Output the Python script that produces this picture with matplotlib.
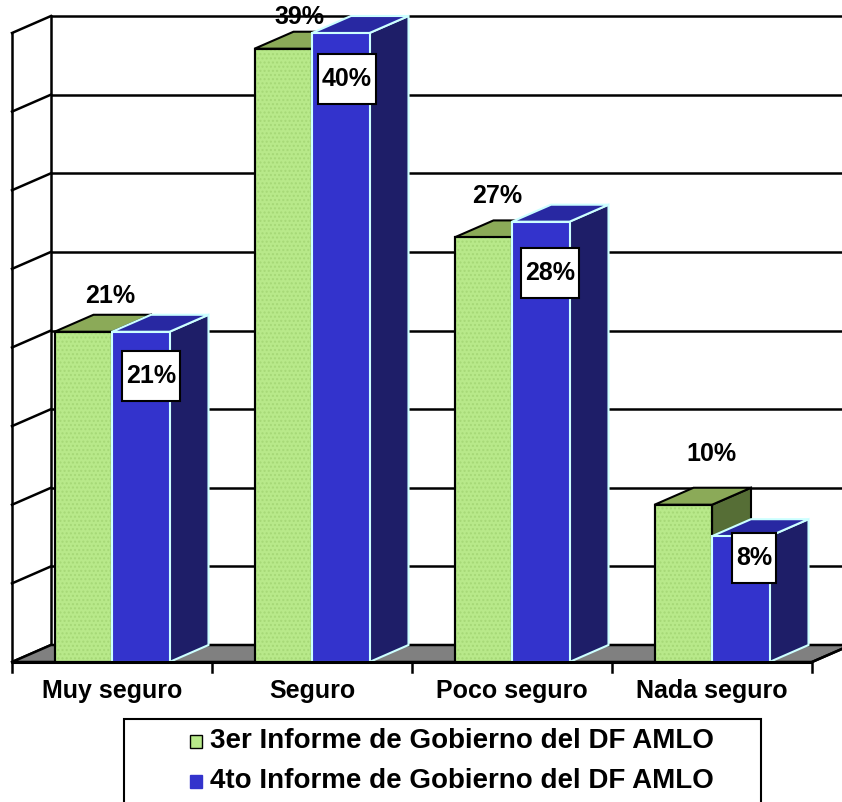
import matplotlib
matplotlib.use("Agg")
import matplotlib.pyplot as plt
from matplotlib.patches import Polygon, Rectangle

plt.rcParams['font.family'] = ['Liberation Sans', 'DejaVu Sans']

# ---------------- data ----------------
categories = ["Muy seguro", "Seguro", "Poco seguro", "Nada seguro"]
series_names = ["3er Informe de Gobierno del DF AMLO",
                "4to Informe de Gobierno del DF AMLO"]
values_3er = [21, 39, 27, 10]
values_4to = [21, 40, 28, 8]
y_max = 40
y_step = 5

# ---------------- layout / style ----------------
W, H = 842, 802
PX_X0, PX_PER_CAT = 112, 200.0       # pixel of category 0 centre, px per category
PX_Y0, PX_PER_PCT = 662, 15.725      # pixel of 0 %, px per percent
DX = 39 / PX_PER_CAT                 # depth offset (data units)
DY = 17 / PX_PER_PCT
BW = 57.5 / PX_PER_CAT               # bar width

def X(px):
    return (px - PX_X0) / PX_PER_CAT

def Y(py):
    return (PX_Y0 - py) / PX_PER_PCT

green = dict(front="#B8E98A", top="#8BAA58", side="#566E36", edge="black")
blue = dict(front="#3333CC", top="#2828A2", side="#1E1E68", edge="#CCFFFF")

# label offsets in px relative to the bar's front top-left corner
green_lab_off = [(56, -36), (45, -32), (43, -41), (57, -51)]
blue_box_off = [(39, 44), (35, 46), (38, 51), (42, 22)]

fig = plt.figure(figsize=(W / 100, H / 100), dpi=100)
ax = fig.add_axes([0, 0, 1, 1])
ax.set_xlim(X(0), X(W))
ax.set_ylim(Y(H), Y(0))
ax.axis("off")

n = len(categories)
xl = -0.5
xr = n - 0.5
LW = 1.8

# ---- walls ----
for v in range(0, y_max + 1, y_step):
    ax.plot([xl + DX, xr + DX + 1], [v + DY, v + DY], color="black", lw=LW, zorder=1,
            solid_capstyle="butt")
    ax.plot([xl, xl + DX], [v, v + DY], color="black", lw=LW, zorder=1)
ax.plot([xl, xl], [0, y_max], color="black", lw=LW, zorder=1)
ax.plot([xl + DX, xl + DX], [DY, y_max + DY], color="black", lw=LW, zorder=1)

# ---- floor ----
floor = Polygon([(xl, 0), (xr, 0), (xr + DX, DY), (xl + DX, DY)], closed=True,
                facecolor="#808080", edgecolor="black", lw=LW, zorder=2)
ax.add_patch(floor)


def bar3d(x0, h, c, z, texture=None):
    x1 = x0 + BW
    front = [(x0, 0), (x1, 0), (x1, h), (x0, h)]
    top = [(x0, h), (x1, h), (x1 + DX, h + DY), (x0 + DX, h + DY)]
    side = [(x1, 0), (x1 + DX, DY), (x1 + DX, h + DY), (x1, h)]
    ax.add_patch(Polygon(side, closed=True, facecolor=c["side"], edgecolor=c["edge"],
                         lw=1.5, zorder=z, joinstyle="miter"))
    ax.add_patch(Polygon(top, closed=True, facecolor=c["top"], edgecolor=c["edge"],
                         lw=1.5, zorder=z, joinstyle="miter"))
    ax.add_patch(Polygon(front, closed=True, facecolor=c["front"], edgecolor=c["edge"],
                         lw=1.5, zorder=z + 0.3, joinstyle="miter"))
    if texture:
        ax.add_patch(Polygon(front, closed=True, fill=False, edgecolor=texture,
                             hatch="....", lw=0, zorder=z + 0.4))
        ax.add_patch(Polygon(front, closed=True, fill=False, edgecolor=c["edge"],
                             lw=1.5, zorder=z + 0.5, joinstyle="miter"))


for i in range(n):
    xg = i - BW
    xb = i
    bar3d(xg, values_3er[i], green, 3 + 2 * i, texture="#A6D877")
    bar3d(xb, values_4to[i], blue, 4 + 2 * i)

    ox, oy = green_lab_off[i]
    ax.text(xg + ox / PX_PER_CAT, values_3er[i] - oy / PX_PER_PCT,
            f"{values_3er[i]}%", ha="center", va="center", fontsize=18,
            fontweight="bold", zorder=20)
    bx, by = blue_box_off[i]
    cx = xb + bx / PX_PER_CAT
    cy = values_4to[i] - by / PX_PER_PCT
    txt = f"{values_4to[i]}%"
    bw_px = 14 * len(txt) + 16
    bh_px = 50
    ax.add_patch(Rectangle((cx - bw_px / 2 / PX_PER_CAT, cy - bh_px / 2 / PX_PER_PCT),
                           bw_px / PX_PER_CAT, bh_px / PX_PER_PCT,
                           facecolor="white", edgecolor="black", lw=1.5, zorder=20))
    ax.text(cx, cy, txt, ha="center", va="center", fontsize=18,
            fontweight="bold", zorder=21)

# ---- category axis ----
ax.plot([xl, xr], [0, 0], color="black", lw=2.2, zorder=30, solid_capstyle="butt")
ax.plot([xr, xr + DX], [0, DY], color="black", lw=LW, zorder=30)
for k in range(n + 1):
    t = xl + k
    ax.plot([t, t], [0, Y(PX_Y0 + 10)], color="black", lw=LW, zorder=30)
for i, c in enumerate(categories):
    ax.text(i, Y(691), c, ha="center", va="center", fontsize=18, fontweight="bold")

# ---- legend ----
ax.add_patch(Rectangle((X(124), Y(812)), X(761) - X(124), Y(719) - Y(812),
                       facecolor="white", edgecolor="black", lw=1.5, zorder=40))
leg_rows = [(741, green), (781, blue)]
for (yc, c), name in zip(leg_rows, series_names):
    ax.add_patch(Rectangle((X(190), Y(yc + 6.5)), X(202) - X(190), Y(yc - 6.5) - Y(yc + 6.5),
                           facecolor=c["front"],
                           edgecolor="black" if c is green else c["front"],
                           lw=1.0, zorder=41))
    ax.text(X(210), Y(yc), name, ha="left", va="center", fontsize=20,
            fontweight="bold", zorder=41)

fig.savefig("out.png", dpi=100)
